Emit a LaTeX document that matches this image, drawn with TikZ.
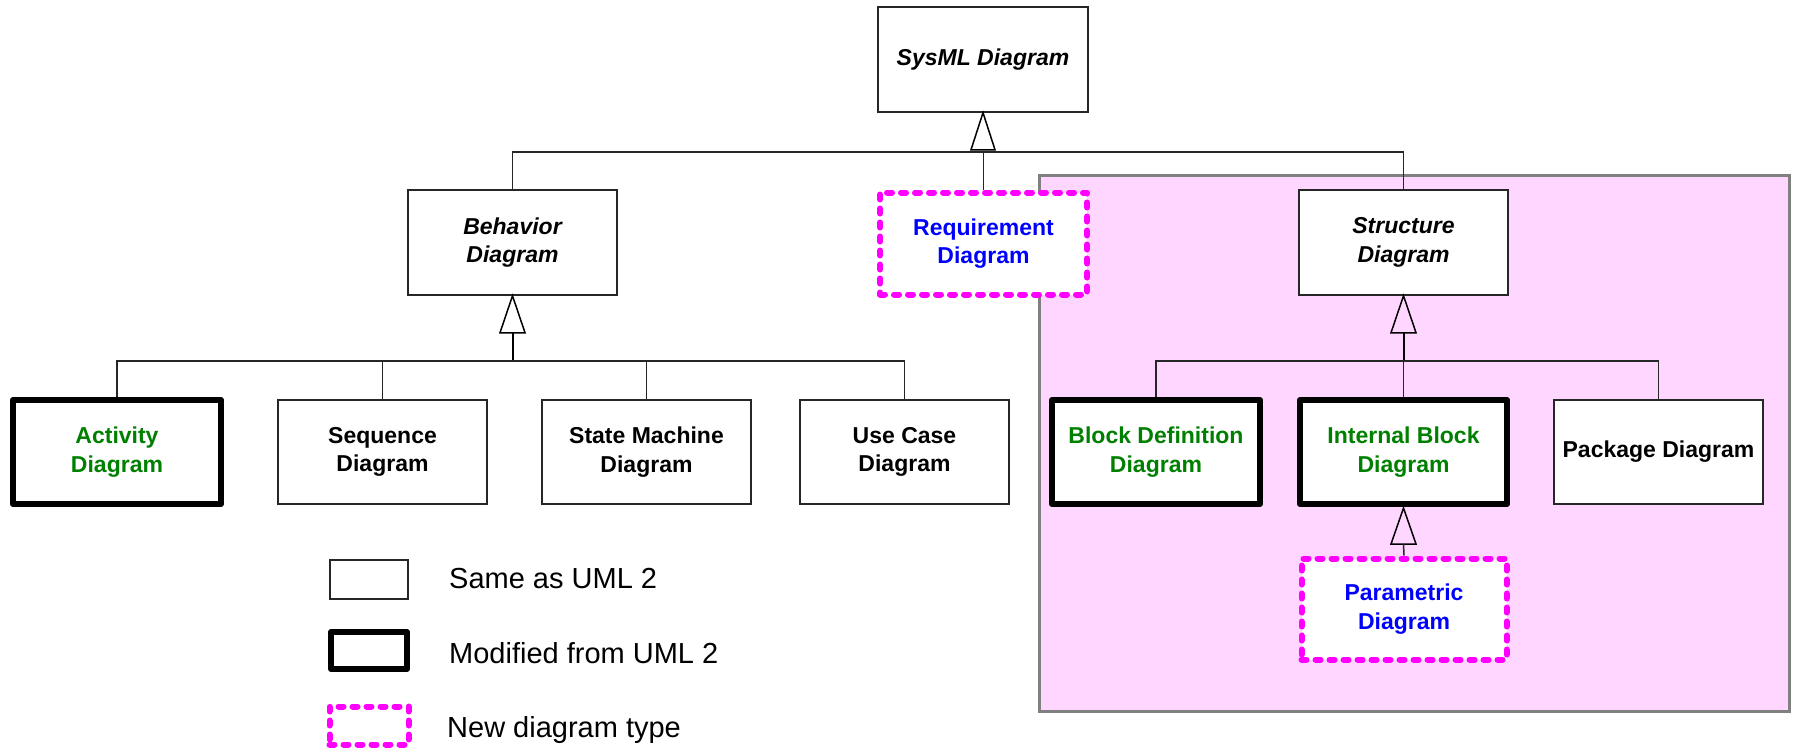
\documentclass[tikz,border=0pt]{standalone}
\usepackage{fontspec}
\setmainfont{Liberation Sans}
\definecolor{pinkbg}{RGB}{255,214,255}
\definecolor{umlgreen}{RGB}{0,128,0}
\definecolor{umlblue}{RGB}{0,0,255}
\definecolor{umlmag}{RGB}{255,0,255}
\definecolor{framegray}{RGB}{128,128,128}
\newcommand{\diagfont}{\fontsize{23}{28.5}\selectfont\bfseries}
\newcommand{\legfont}{\fontsize{29}{34}\selectfont}
\begin{document}
\begin{tikzpicture}[x=1pt,y=-1pt,
  box/.style={draw=black!85,line width=1.5pt,fill=white,minimum width=209pt,minimum height=104pt,inner sep=0pt,align=center,font=\diagfont},
  thickbox/.style={box,draw=black,line width=6pt,line join=round},
  newbox/.style={box,draw=umlmag,line width=6pt,dash pattern=on 5pt off 9pt,line cap=round,line join=round},
  conn/.style={draw=black!85,line width=1.5pt},
  stub/.style={draw=black,line width=2pt},
  gen/.style={draw=black,line width=1.5pt,line join=miter},
  legtext/.style={anchor=base west,inner sep=0pt,font=\legfont}]
\useasboundingbox (0,0) rectangle (1793,748);
% package area
\node[draw=framegray,line width=3pt,fill=pinkbg,minimum width=750pt,minimum height=536pt,inner sep=0pt] (structarea) at (1414,443) {};
% nodes
\node[box,minimum width=210pt,minimum height=105pt] (sysml) at (983,59.5) {\itshape SysML Diagram};
\node[box,minimum height=105pt] (behavior) at (512.5,242.5) {\itshape Behavior\\\itshape Diagram};
\node[newbox,text=umlblue,minimum width=207pt,minimum height=102pt] (req) at (983.5,243.5) {Requirement\\Diagram};
\node[box,minimum height=105pt] (structure) at (1403.5,242.5) {\itshape Structure\\\itshape Diagram};
\node[thickbox,text=umlgreen,minimum width=208pt] (activity) at (117,452) {Activity\\Diagram};
\node[box] (sequence) at (382.5,452) {Sequence\\Diagram};
\node[box] (statem) at (646.5,452) {State Machine\\Diagram};
\node[box] (usecase) at (904.5,452) {Use Case\\Diagram};
\node[thickbox,text=umlgreen,minimum width=208pt] (blockdef) at (1156,452) {Block Definition\\Diagram};
\node[thickbox,text=umlgreen,minimum width=207pt] (internal) at (1403.5,452) {Internal Block\\Diagram};
\node[box] (package) at (1658.5,452) {Package Diagram};
\node[newbox,text=umlblue,minimum width=205pt,minimum height=101pt] (param) at (1404,609) {Parametric\\Diagram};
% top level generalization
\coordinate (topbar) at (983,152);
\draw[gen] (sysml.south) -- ++(-12,37) -- ++(24,0) -- cycle;
\draw[conn] (behavior.north) |- (structure.north |- topbar) -- (structure.north);
\draw[conn] (req.north) -- (req.north |- topbar);
% behavior children
\coordinate (bbar) at (512.5,361);
\draw[gen] (behavior.south) -- ++(-12.5,37) -- ++(25,0) -- cycle;
\draw[stub] ([yshift=-37pt]behavior.south) -- (bbar);
\draw[conn] (activity.north) |- (bbar) -| (usecase.north);
\draw[conn] (sequence.north) -- (sequence.north |- bbar);
\draw[conn] (statem.north) -- (statem.north |- bbar);
% structure children
\coordinate (sbar) at (1403.5,361);
\draw[gen] (structure.south) -- ++(-12.5,37) -- ++(25,0) -- cycle;
\draw[stub] ([yshift=-37pt]structure.south) -- (sbar);
\draw[conn] (blockdef.north) |- (sbar) -| (package.north);
\draw[conn] (internal.north) -- (sbar);
% parametric
\draw[gen] ([yshift=-1pt]internal.south) -- ++(-12.5,36) -- ++(25,0) -- cycle;
\draw[conn] ([yshift=-37pt]internal.south) -- (param.north);
% legend
\node[box,minimum width=78pt,minimum height=39pt] (legsame) at (369,579.5) {};
\node[thickbox,minimum width=76pt,minimum height=37pt] (legmod) at (369,650.5) {};
\node[newbox,minimum width=79pt,minimum height=38pt] (legnew) at (369,725.5) {};
\node[legtext] (legsamet) at (449,588) {Same as UML 2};
\node[legtext] (legmodt) at (449,663) {Modified from UML 2};
\node[legtext] (legnewt) at (447,737) {New diagram type};
\end{tikzpicture}
\end{document}
